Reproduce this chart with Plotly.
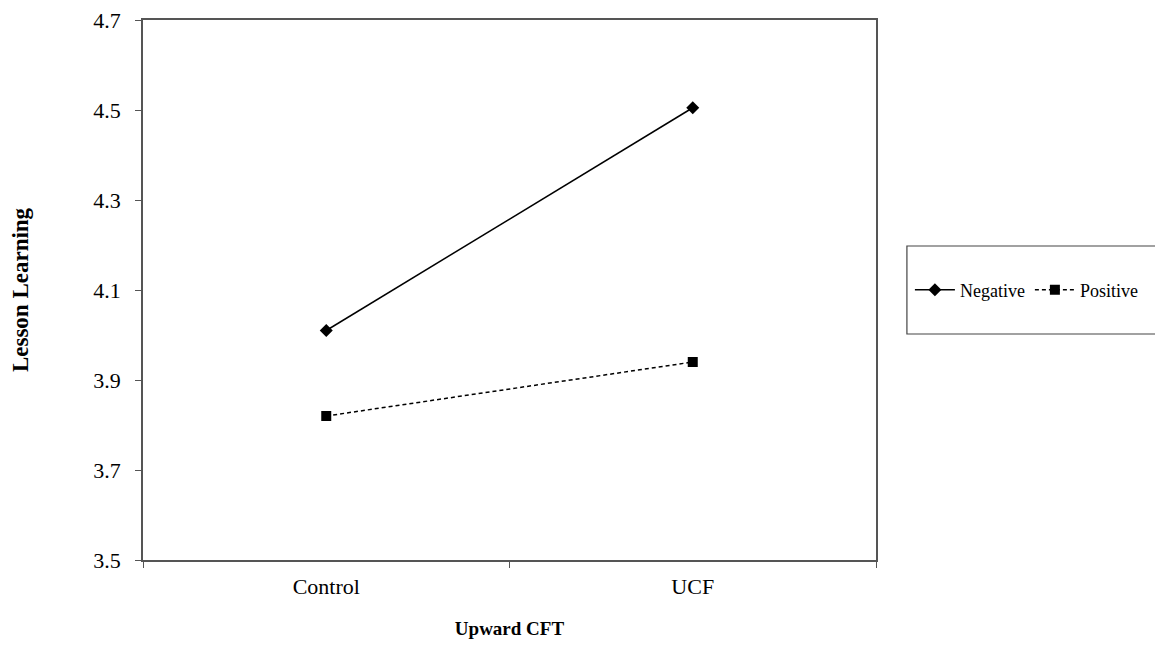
import plotly.graph_objects as go

categories = ["Control", "UCF"]
negative = [4.01, 4.505]
positive = [3.82, 3.94]
y_ticks = [3.5, 3.7, 3.9, 4.1, 4.3, 4.5, 4.7]

font = "Liberation Serif, Times New Roman, serif"
fig = go.Figure()
fig.add_trace(go.Scatter(x=categories, y=negative, name="Negative", mode="lines+markers",
                         line=dict(color="black", width=1.5, dash="solid"),
                         marker=dict(symbol="diamond", size=10, color="black")))
fig.add_trace(go.Scatter(x=categories, y=positive, name="Positive", mode="lines+markers",
                         line=dict(color="black", width=1.5, dash="4px,3px"),
                         marker=dict(symbol="square", size=10, color="black")))

# legend frame drawn as a paper-space rectangle (reference box is larger than Plotly's auto box)
fig.add_shape(type="rect", xref="paper", yref="paper",
              x0=(909 - 143) / 735, x1=(1161 - 143) / 735,
              y0=(560 - 334) / 540, y1=(560 - 246) / 540,
              line=dict(color="#444", width=1.2), fillcolor="rgba(0,0,0,0)", layer="below")

fig.update_layout(
    width=1147, height=631,
    margin=dict(l=135, r=277, t=12, b=79),
    plot_bgcolor="white", paper_bgcolor="white",
    font=dict(family=font, color="black", size=22),
    showlegend=True,
    legend=dict(orientation="h", x=(912 - 143) / 735, xanchor="left", y=0.5, yanchor="middle",
                borderwidth=0, bgcolor="rgba(0,0,0,0)",
                font=dict(size=18, family=font), itemwidth=40,
                tracegroupgap=0),
    xaxis=dict(type="category", range=[-0.5, 1.5], tickson="boundaries", automargin=False,
               ticks="outside", ticklen=6, tickcolor="#555", ticklabelstandoff=6,
               showline=True, linecolor="#555", linewidth=1.5, mirror=True,
               showgrid=False, zeroline=False,
               title=dict(text="<b>Upward CFT</b>", font=dict(size=19, family=font), standoff=32)),
    yaxis=dict(range=[3.5, 4.7], tickvals=y_ticks, tickformat=".1f", automargin=False,
               ticks="outside", ticklen=6, tickcolor="#555", ticklabelstandoff=10,
               ticklabeloverflow="allow",
               showline=True, linecolor="#555", linewidth=1.5, mirror=True,
               showgrid=False, zeroline=False,
               title=dict(text="<b>Lesson Learning</b>", font=dict(size=23, family=font), standoff=58)),
)
fig.write_html("out.html")
